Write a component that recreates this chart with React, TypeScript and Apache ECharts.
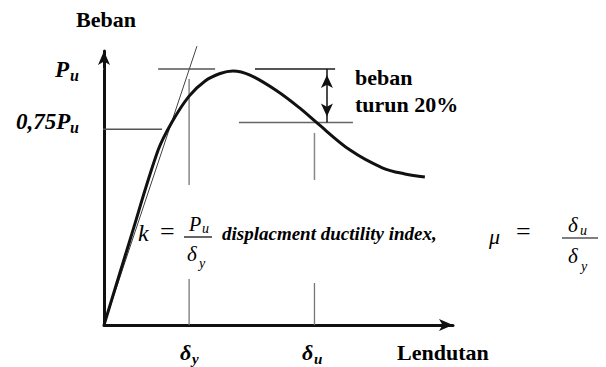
import React, { useEffect, useRef } from "react";
import * as echarts from "echarts";

// Load-displacement curve (displacement units, load % of Pu)
const curveX = [0, 7.3, 15.2, 19.1, 23.9, 28.4, 32.6, 36.2, 41.0, 48.6, 55.0, 59.5, 69.1, 78.3, 84.5, 90.1];
const curveY = [0, 33.2, 68.3, 79.3, 89.4, 95.3, 98.2, 99.2, 97.6, 91.4, 84.7, 79.3, 68.3, 61.3, 59.0, 57.8];

// Reference levels
const levelPu = 100;
const level75 = 76.4;
const level80 = 79.1;
const deltaY = 23.9;
const deltaU = 59.1;

// Guide segments [x1, y1, x2, y2]
const tangent = [0, 0, 26.1, 108.9];
const puLeft = [15.2, levelPu, 31.2, levelPu];
const puRight = [42.4, levelPu, 64.9, levelPu];
const puTick = [-2.0, levelPu, 0, levelPu];
const line75 = [-1.7, level75, 16.3, level75];
const line80 = [37.9, level80, 69.9, level80];
const dyUpper = [deltaY, 96.1, deltaY, 54.7];
const dyLower = [deltaY, 18.0, deltaY, 0];
const duUpper = [deltaU, 75.0, deltaU, 56.6];
const duLower = [deltaU, 16.4, deltaU, 0];
const dropArrowX = 62.6;

const FAMILY = "serif";
const INK = "#000";

function seg(s: number[], color: string, width: number) {
  return {
    type: "line",
    data: [
      [s[0], s[1]],
      [s[2], s[3]],
    ],
    showSymbol: false,
    symbol: "none",
    clip: false,
    silent: true,
    lineStyle: { color, width },
    z: 2,
  };
}

// x, y = top-left of the text box
function txt(text: string, x: number, y: number, size: number, bold: boolean, italic: boolean) {
  const font = `${italic ? "italic " : ""}${bold ? "bold " : ""}${size}px ${FAMILY}`;
  return { type: "text", x, y, style: { text, font, fill: INK } };
}

export default function App() {
  const ref = useRef<HTMLDivElement>(null);
  useEffect(() => {
    document.body.style.margin = "0";
    const chart = echarts.init(ref.current!, null, { renderer: "svg" });
    const curve = curveX.map((x, i) => [x, curveY[i]]);
    chart.setOption({
      animation: false,
      textStyle: { fontFamily: FAMILY },
      grid: { left: 104, top: 51, width: 349, height: 274 },
      xAxis: {
        type: "value",
        min: 0,
        max: 98,
        axisLine: {
          show: true,
          lineStyle: { color: "#111", width: 3 },
          symbol: ["none", "arrow"],
          symbolSize: [9, 14],
        },
        axisTick: { show: false },
        axisLabel: { show: false },
        splitLine: { show: false },
      },
      yAxis: {
        type: "value",
        min: 0,
        max: 107,
        axisLine: {
          show: true,
          lineStyle: { color: "#111", width: 3 },
          symbol: ["none", "arrow"],
          symbolSize: [9, 14],
        },
        axisTick: { show: false },
        axisLabel: { show: false },
        splitLine: { show: false },
      },
      series: [
        seg(tangent, "#444", 1),
        seg(puLeft, "#555", 1.5),
        seg(puRight, "#555", 2),
        seg(puTick, "#555", 1.5),
        seg(line75, "#555", 1.5),
        seg(line80, "#666", 1.5),
        seg(dyUpper, "#888", 1.5),
        seg(dyLower, "#777", 1.3),
        seg(duUpper, "#888", 1.5),
        seg(duLower, "#777", 1.3),
        {
          type: "line",
          data: curve,
          smooth: 0.35,
          showSymbol: false,
          symbol: "none",
          clip: false,
          lineStyle: { color: "#111", width: 3 },
          z: 3,
          markLine: {
            silent: true,
            symbol: ["arrow", "arrow"],
            symbolSize: [9, 13],
            symbolOffset: [
              [0, 6],
              [0, 6],
            ],
            label: { show: false },
            lineStyle: { color: "#111", width: 1.5, type: "solid" },
            data: [
              [
                { coord: [dropArrowX, levelPu] },
                { coord: [dropArrowX, level80] },
              ],
            ],
          },
        },
      ],
      graphic: [
        txt("Beban", 76, 8, 22, true, false),
        txt("P", 55, 58, 23, true, true),
        txt("u", 70, 67, 16, true, true),
        txt("0,75P", 16, 110, 23, true, true),
        txt("u", 70, 119, 16, true, true),
        txt("beban", 355, 66, 22, true, false),
        txt("turun 20%", 355, 93, 22, true, false),
        // k = Pu / δy
        txt("k", 138, 221, 24, false, true),
        txt("=", 160, 218, 26, false, false),
        txt("P", 189, 214, 20, false, true),
        txt("u", 202, 221, 14, false, true),
        {
          type: "line",
          shape: { x1: 184, y1: 237, x2: 212, y2: 237 },
          style: { stroke: INK, lineWidth: 1.2 },
        },
        txt("δ", 187, 243, 21, false, true),
        txt("y", 199, 256, 14, false, true),
        txt("displacment ductility index,", 222, 224, 19, true, true),
        txt("μ", 489, 225, 22, false, true),
        txt("=", 516, 218, 26, false, false),
        txt("δ", 568, 214, 21, false, true),
        txt("u", 580, 223, 14, false, true),
        {
          type: "line",
          shape: { x1: 562, y1: 238, x2: 598, y2: 238 },
          style: { stroke: INK, lineWidth: 1.2 },
        },
        txt("δ", 568, 245, 21, false, true),
        txt("y", 581, 259, 14, false, true),
        // axis labels
        txt("δ", 180, 341, 22, true, true),
        txt("y", 192, 351, 15, true, true),
        txt("δ", 302, 341, 22, true, true),
        txt("u", 314, 351, 15, true, true),
        txt("Lendutan", 397, 341, 22, true, false),
      ],
    });
    return () => chart.dispose();
  }, []);
  return (
    <div
      ref={ref}
      style={{ position: "fixed", left: 0, top: 0, width: 606, height: 367, background: "#fff" }}
    />
  );
}
